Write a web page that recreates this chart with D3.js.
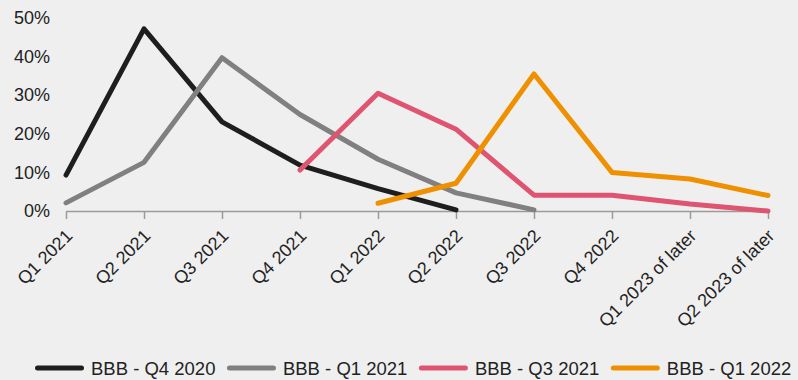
<!DOCTYPE html>
<html>
<head>
<meta charset="utf-8">
<script src="https://cdn.jsdelivr.net/npm/d3@7"></script>
<style>
  html, body { margin: 0; padding: 0; background: #efefef; }
  svg { display: block; }
  text { font-family: "Liberation Sans", Arial, sans-serif; fill: #222; }
</style>
</head>
<body>
<svg id="chart" width="798" height="380"></svg>
<script>
const categories = ["Q1 2021", "Q2 2021", "Q3 2021", "Q4 2021", "Q1 2022", "Q2 2022", "Q3 2022", "Q4 2022", "Q1 2023 of later", "Q2 2023 of later"];
const yTicks = [0, 0.1, 0.2, 0.3, 0.4, 0.5];

const bbbQ42020 = [0.093, 0.472, 0.231, 0.119, 0.058, 0.003, null, null, null, null];
const bbbQ12021 = [0.021, 0.126, 0.397, 0.250, 0.134, 0.047, 0.003, null, null, null];
const bbbQ32021 = [null, null, null, 0.106, 0.305, 0.212, 0.041, 0.041, 0.018, 0.0];
const bbbQ12022 = [null, null, null, null, 0.020, 0.072, 0.355, 0.100, 0.083, 0.040];

const seriesNames = ["BBB - Q4 2020", "BBB - Q1 2021", "BBB - Q3 2021", "BBB - Q1 2022"];
const seriesColors = ["#1e1e1e", "#808080", "#df5470", "#ef9000"];
const seriesValues = [bbbQ42020, bbbQ12021, bbbQ32021, bbbQ12022];

const svg = d3.select("#chart");

const x = d3.scalePoint().domain(categories).range([66, 768]);
const y = d3.scaleLinear().domain([0, 0.5]).range([211, 18]);

// Y axis (labels only)
const yAxis = svg.append("g")
  .attr("transform", "translate(50,0)")
  .call(d3.axisLeft(y).tickValues(yTicks).tickFormat(d3.format(".0%")).tickSize(0).tickPadding(0));
yAxis.select(".domain").remove();
yAxis.selectAll("text").style("font-size", "18px").style("font-family", "'Liberation Sans', Arial, sans-serif").attr("fill", "#222");

// X axis
const xAxis = svg.append("g")
  .attr("transform", "translate(0,211)")
  .call(d3.axisBottom(x).tickSize(8).tickSizeOuter(0));
xAxis.select(".domain").attr("stroke", "#9a9a9a").attr("stroke-width", 1.5);
xAxis.selectAll(".tick line").attr("stroke", "#9a9a9a").attr("stroke-width", 1.5);
xAxis.selectAll(".tick text")
  .style("font-size", "18px")
  .style("font-family", "'Liberation Sans', Arial, sans-serif")
  .attr("fill", "#222")
  .attr("text-anchor", "end")
  .attr("y", 0).attr("dy", 0)
  .attr("transform", "translate(7,26) rotate(-45)");

// Lines
const line = d3.line()
  .defined(d => d != null)
  .x((d, i) => x(categories[i]))
  .y(d => y(d));

seriesValues.forEach((vals, k) => {
  svg.append("path")
    .datum(vals)
    .attr("fill", "none")
    .attr("stroke", seriesColors[k])
    .attr("stroke-width", 5)
    .attr("stroke-linejoin", "round")
    .attr("stroke-linecap", "round")
    .attr("d", line);
});

// Legend
const legend = svg.append("g").attr("transform", "translate(0,368)");
let lx = 37.5;
seriesNames.forEach((name, k) => {
  const g = legend.append("g");
  g.append("line")
    .attr("x1", lx).attr("x2", lx + 44)
    .attr("y1", 0).attr("y2", 0)
    .attr("stroke", seriesColors[k])
    .attr("stroke-width", 5)
    .attr("stroke-linecap", "round");
  const t = g.append("text")
    .attr("x", lx + 53.5)
    .attr("y", 7)
    .style("font-size", "18.5px")
    .text(name);
  const w = t.node().getComputedTextLength();
  lx = lx + 53.5 + w + 14;
});
</script>
</body>
</html>
